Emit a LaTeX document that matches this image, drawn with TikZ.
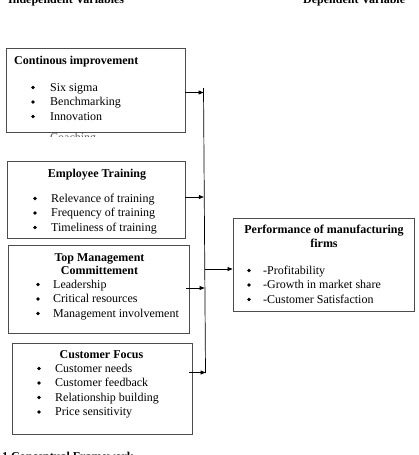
\documentclass[tikz,border=0pt]{standalone}
\usepackage{fontspec}
\setmainfont{Liberation Serif}
\usetikzlibrary{arrows.meta}
\tikzset{
  box/.style={draw=black!70, line width=0.9pt, inner sep=0pt, fill=none},
  txt/.style={anchor=base west, inner sep=0pt, font=\fontsize{12}{14}\selectfont},
  ttl/.style={anchor=base, inner sep=0pt, font=\fontsize{12}{14}\selectfont\bfseries},
  ttlw/.style={anchor=base west, inner sep=0pt, font=\fontsize{12}{14}\selectfont\bfseries},
  dot/.style={circle, fill=black, inner sep=0pt, minimum size=3.6pt},
  arr/.style={-{Triangle[length=5pt,width=4pt]}, line width=0.7pt},
  vline/.style={line width=0.7pt},
}
\begin{document}
\begin{tikzpicture}[x=1pt,y=-1pt]
\useasboundingbox (0,0) rectangle (419,455);
% headers (cut at the top edge, as in the source)
\node[ttlw] (hi) at (8,3) {Independent Variables};
\node[ttlw] (hd) at (303,3) {Dependent Variable};
% boxes
\node[box, minimum width=179pt, minimum height=84pt] (b1) at (95.5,90) {};
\node[box, minimum width=178pt, minimum height=77pt] (b2) at (96,199.5) {};
\node[box, minimum width=181pt, minimum height=88pt] (b3) at (98.5,289) {};
\node[box, minimum width=180pt, minimum height=91pt] (b4) at (102,388.5) {};
\node[box, minimum width=181pt, minimum height=93pt] (b5) at (323.5,264.5) {};
% box 1
\node[ttlw] (t1) at (14,64) {Continous improvement};
\node[dot] (u11) at (33,87.5) {}; \node[txt] (l11) at (50,91) {Six sigma};
\node[dot] (u12) at (33,102) {}; \node[txt] (l12) at (50,105.5) {Benchmarking};
\node[dot] (u13) at (33,116.5) {}; \node[txt] (l13) at (50,120) {Innovation};
\begin{scope}
  \clip (45,133.4) rectangle (190,136.4);
  \node[txt, text=black!65] (l14) at (50,141.5) {Coaching};
\end{scope}
% box 2
\node[ttl] (t2) at (97,177) {Employee Training};
\node[dot] (u21) at (35,198.5) {}; \node[txt] (l21) at (51,202) {Relevance of training};
\node[dot] (u22) at (35,213) {}; \node[txt] (l22) at (51,216.5) {Frequency of training};
\node[dot] (u23) at (35,227.5) {}; \node[txt] (l23) at (51,231) {Timeliness of training};
% box 3
\node[ttl] (t3a) at (99.5,261) {Top Management};
\node[ttl] (t3b) at (99.5,274) {Committement};
\node[dot] (u31) at (38,284.5) {}; \node[txt] (l31) at (53,288) {Leadership};
\node[dot] (u32) at (38,299) {}; \node[txt] (l32) at (53,302.5) {Critical resources};
\node[dot] (u33) at (38,313.5) {}; \node[txt] (l33) at (53,317) {Management involvement};
% box 4
\node[ttl] (t4) at (101.5,358) {Customer Focus};
\node[dot] (u41) at (39,368.5) {}; \node[txt] (l41) at (55,372) {Customer needs};
\node[dot] (u42) at (39,383) {}; \node[txt] (l42) at (55,386.5) {Customer feedback};
\node[dot] (u43) at (39,397.5) {}; \node[txt] (l43) at (55,401) {Relationship building};
\node[dot] (u44) at (39,412) {}; \node[txt] (l44) at (55,415.5) {Price sensitivity};
% box 5
\node[ttl] (t5a) at (324,233.5) {Performance of manufacturing};
\node[ttl] (t5b) at (324,247) {firms};
\node[dot] (u51) at (249,270.5) {}; \node[txt] (l51) at (263,274) {-Profitability};
\node[dot] (u52) at (249,285) {}; \node[txt] (l52) at (263,288.5) {-Growth in market share};
\node[dot] (u53) at (249,299.5) {}; \node[txt] (l53) at (263,303) {-Customer Satisfaction};
% caption (cut at the bottom edge, as in the source)
\node[ttlw] (cap) at (2,460) {1 Conceptual Framework};
% connectors
\coordinate (vtop) at (203.5,88);
\coordinate (vbot) at (205.5,373);
\draw[vline] (vtop) -- (vbot);
\coordinate (e1) at (203.5,92.5);
\coordinate (e2) at (203.8,197);
\coordinate (e3) at (204.6,288);
\coordinate (e4) at (205.5,372.5);
\coordinate (s5) at (204.7,269);
\draw[arr] (b1.east |- e1) -- (e1);
\draw[arr] (b2.east |- e2) -- (e2);
\draw[arr] ([xshift=-3pt]b3.east |- e3) -- (e3);
\draw[arr] ([xshift=-3pt]b4.east |- e4) -- (e4);
\draw[arr] (s5) -- (b5.west |- s5);
\end{tikzpicture}
\end{document}
